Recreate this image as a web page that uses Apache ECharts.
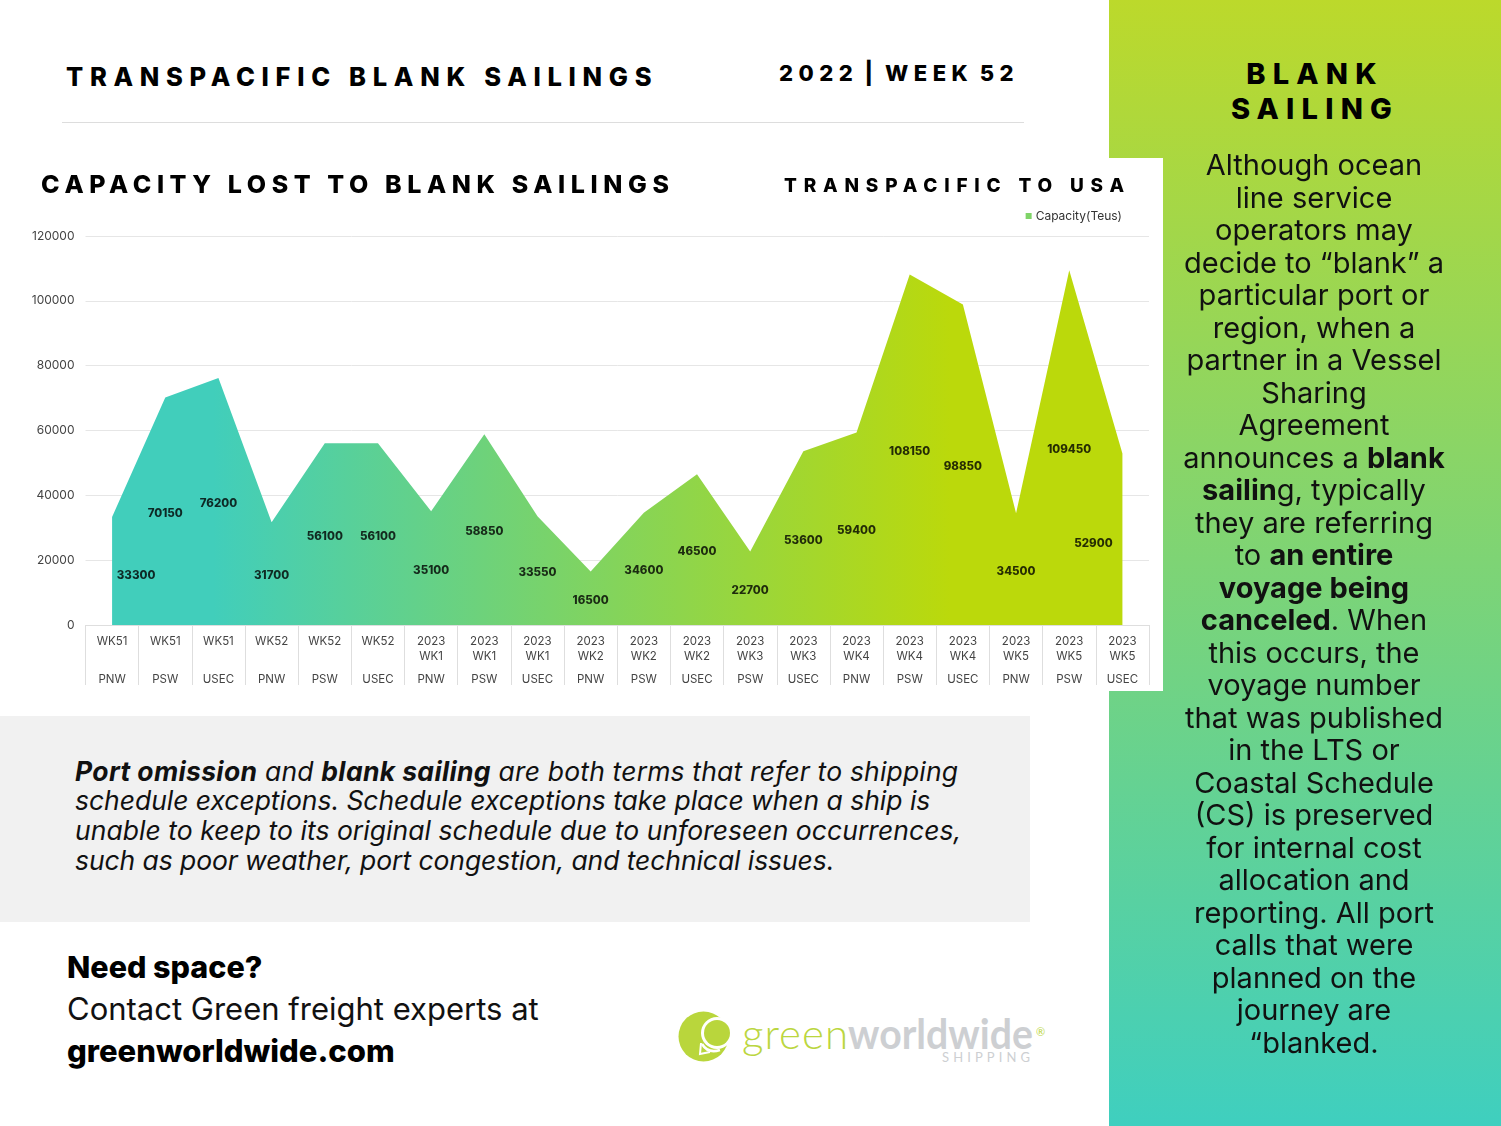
<!DOCTYPE html>
<html><head><meta charset="utf-8">
<script src="https://cdn.jsdelivr.net/npm/echarts@6/dist/echarts.min.js"></script>
<style>
html,body{margin:0;padding:0;background:#fff;width:1501px;height:1126px;overflow:hidden}
body{font-family:Inter,"Noto Sans",sans-serif;color:#000;position:relative}
.a{position:absolute;white-space:nowrap;line-height:1}
#panel{position:absolute;left:1109px;top:0;width:392px;height:1126px;background:linear-gradient(180deg,#BCD92B 0%,#3FCFBF 100%)}
#chart{position:absolute;left:0;top:158px;width:1163px;height:533px;background:#fff}
#grey{position:absolute;left:0;top:716px;width:1030px;height:206px;background:#f1f1f1}
#hr{position:absolute;left:62px;top:122px;width:962px;height:1px;background:#ddd}
#side{position:absolute;left:1127px;top:149px;width:374px;text-align:center;font-size:29px;line-height:32.5px;color:#111}
#note{position:absolute;left:75px;top:756.5px;font-size:26.5px;line-height:29.8px;font-style:italic;white-space:nowrap;color:#111}
#note b{letter-spacing:.35px}
</style></head><body>
<div id="panel"></div>
<div class="a" style="left:66px;top:63.500px;font-size:25.500px;font-weight:800;letter-spacing:6.700px">TRANSPACIFIC BLANK SAILINGS</div>
<div class="a" style="left:779px;top:62px;font-size:22px;font-weight:800;letter-spacing:5.500px;word-spacing:-4px">2022 | WEEK 52</div>
<div id="hr"></div>
<div id="chart"></div>
<div class="a" style="left:1112px;top:57px;width:406px;text-align:center;font-size:29px;font-weight:800;letter-spacing:7.200px;line-height:34.500px;white-space:normal">BLANK<br>SAILING</div>
<div id="side">Although ocean<br>line service<br>operators may<br>decide to “blank” a<br>particular port or<br>region, when a<br>partner in a Vessel<br>Sharing<br>Agreement<br>announces a <b>blank</b><br><b>sailin</b>g, typically<br>they are referring<br>to <b>an entire</b><br><b>voyage being</b><br><b>canceled</b>. When<br>this occurs, the<br>voyage number<br>that was published<br>in the LTS or<br>Coastal Schedule<br>(CS) is preserved<br>for internal cost<br>allocation and<br>reporting. All port<br>calls that were<br>planned on the<br>journey are<br>“blanked.</div>
<div id="grey"></div>
<div id="note"><span style="letter-spacing:.17px"><b>Port omission</b> and <b>blank sailing</b> are both terms that refer to shipping</span><br><span style="letter-spacing:-.03px">schedule exceptions. Schedule exceptions take place when a ship is</span><br><span style="letter-spacing:.04px">unable to keep to its original schedule due to unforeseen occurrences,</span><br><span style="letter-spacing:-.08px">such as poor weather, port congestion, and technical issues.</span></div>
<div class="a" style="left:67px;top:951.500px;font-size:30.500px;font-weight:800">Need space?</div>
<div class="a" style="left:67px;top:993px;font-size:31px;color:#111">Contact Green freight experts at</div>
<div class="a" style="left:67px;top:1035px;font-size:31px;font-weight:800">greenworldwide.com</div>
<svg style="position:absolute;left:671px;top:1000px" width="390" height="75" viewBox="0 0 390 75">
<circle cx="32.500" cy="36.500" r="25" fill="#B9D63C"/>
<circle cx="46" cy="33" r="16" fill="#fff"/>
<circle cx="46" cy="33" r="13" fill="#B9D63C"/>
<path d="M31 44 Q37 54 49 50" stroke="#fff" stroke-width="2.500" fill="none"/>
<path d="M30 43 L29 54 L39 52" stroke="#fff" stroke-width="2" fill="none"/>
<text x="71" y="49" font-family="Lato,sans-serif" font-size="42" font-weight="300" fill="#BBD640" textLength="106" lengthAdjust="spacing">green</text>
<text x="177" y="49" font-family="Lato,sans-serif" font-size="42" font-weight="700" fill="#CDCFD2" textLength="185" lengthAdjust="spacingAndGlyphs">worldwide</text>
<text x="365" y="36" font-family="Lato,sans-serif" font-size="11" fill="#BBD640">®</text>
<text x="271" y="62" font-family="Lato,sans-serif" font-size="13" letter-spacing="4.100" fill="#CDCFD2">SHIPPING</text>
</svg>
<script>
var periods = ['WK51','WK51','WK51','WK52','WK52','WK52','2023 WK1','2023 WK1','2023 WK1','2023 WK2','2023 WK2','2023 WK2','2023 WK3','2023 WK3','2023 WK4','2023 WK4','2023 WK4','2023 WK5','2023 WK5','2023 WK5'];
var regions = ['PNW','PSW','USEC','PNW','PSW','USEC','PNW','PSW','USEC','PNW','PSW','USEC','PSW','USEC','PNW','PSW','USEC','PNW','PSW','USEC'];
var capacity = [33300,70150,76200,31700,56100,56100,35100,58850,33550,16500,34600,46500,22700,53600,59400,108150,98850,34500,109450,52900];
var yTicks = [0,20000,40000,60000,80000,100000,120000];
var seriesName = 'Capacity(Teus)';
var font = 'Inter';
var categories = periods.map(function(p,i){return p+'|'+regions[i];});
var grad = {type:'linear',x:0,y:0,x2:1,y2:0,colorStops:[{offset:0.1,color:'#41CEBB'},{offset:0.83,color:'#BBD90B'}]};
var labelOffset = {0:[24,5],19:[-29,4.500]};
var chart = echarts.init(document.getElementById('chart'));
chart.setOption({
  animation:false,
  textStyle:{fontFamily:font},
  grid:{left:85.5,right:14,top:78,bottom:66,containLabel:false},
  legend:{show:true,data:[{name:seriesName,icon:'rect',itemStyle:{color:'#7FD468'}}],right:36,top:47,itemWidth:6,itemHeight:6,itemGap:3,
    textStyle:{fontSize:12,color:'#333',fontFamily:font,padding:[0,0,0,-1]}},
  xAxis:{type:'category',data:categories,boundaryGap:true,
    axisLine:{lineStyle:{color:'#dedede',width:1}},
    axisTick:{show:true,length:60,alignWithLabel:false,lineStyle:{color:'#dedede'}},
    axisLabel:{interval:0,margin:9,
      formatter:function(v){var s=v.split('|'),p=s[0].split(' ');
        return p.length>1?'{a|'+p[0]+'}\n{a|'+p[1]+'}\n{c|'+s[1]+'}':'{a|'+p[0]+'}\n{a| }\n{c|'+s[1]+'}';},
      rich:{a:{fontSize:11.500,lineHeight:15,color:'#444',fontFamily:font},c:{fontSize:11.500,lineHeight:31,color:'#444',fontFamily:font}}}},
  yAxis:{type:'value',min:yTicks[0],max:yTicks[yTicks.length-1],interval:yTicks[1],
    axisLine:{show:false},axisTick:{show:false},
    axisLabel:{margin:11,fontSize:12,color:'#444',fontFamily:font,padding:[5,0,0,0],formatter:function(v){return String(v);}},
    splitLine:{lineStyle:{color:'#e6e6e6',width:1}}},
  series:[
    {name:seriesName,type:'line',data:capacity,symbol:'none',lineStyle:{width:0},areaStyle:{color:grad,opacity:1},itemStyle:{color:'#7FD468'},silent:true,z:2},
    {name:'labels',type:'scatter',symbolSize:0,silent:true,z:5,
      data:capacity.map(function(v,i){return {value:[i,v/2],raw:v,label:{offset:labelOffset[i]||[0,2]}};}),
      label:{show:true,position:'inside',fontSize:11.500,fontWeight:800,color:'#000',fontFamily:font,
        formatter:function(p){return String(p.data.raw);}}}
  ]
});
</script>
<div class="a" style="left:41px;top:172px;font-size:25px;font-weight:800;letter-spacing:5.600px;z-index:3">CAPACITY LOST TO BLANK SAILINGS</div>
<div class="a" style="left:784px;top:176px;font-size:19px;font-weight:800;letter-spacing:6.800px;z-index:3">TRANSPACIFIC TO USA</div>
</body></html>
